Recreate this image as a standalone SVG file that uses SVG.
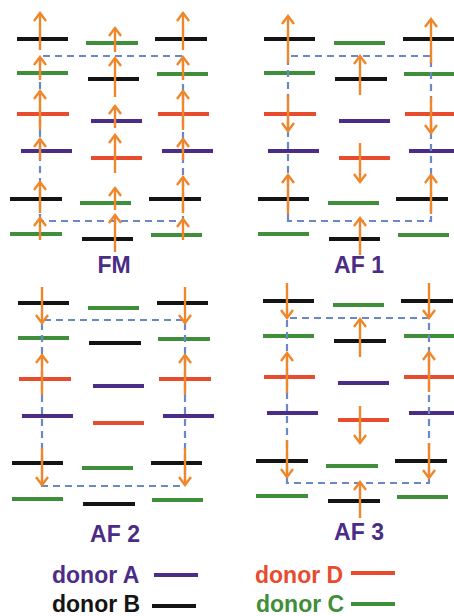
<svg xmlns="http://www.w3.org/2000/svg" width="454" height="616" viewBox="0 0 454 616">
<style>
.k{stroke:#141414;stroke-width:4}
.g{stroke:#3f8f3a;stroke-width:4}
.r{stroke:#e94b2e;stroke-width:4}
.p{stroke:#4b2c86;stroke-width:4}
.d{fill:none;stroke:#6a88c6;stroke-width:2.2;stroke-dasharray:7 5}
.a{stroke:#f0862a;stroke-width:2.4;marker-end:url(#ah)}
.lab{font-family:"Liberation Sans",Arial,sans-serif;font-weight:bold;font-size:23px;fill:#4b2c86;text-anchor:middle}
.leg{font-family:"Liberation Sans",Arial,sans-serif;font-weight:bold;font-size:23px}
</style>
<defs>
<marker id="ah" viewBox="-10 -8 14 16" markerWidth="14" markerHeight="16" refX="0" refY="0" orient="auto" markerUnits="userSpaceOnUse" overflow="visible">
<path d="M-8,-6 L0,0 L-8,6" fill="none" stroke="#f0862a" stroke-width="2.4"/>
</marker>
</defs>

<g id="panel-FM">
<line class="k" x1="17" y1="39" x2="68" y2="39"/><line class="g" x1="86" y1="43" x2="138" y2="43"/><line class="k" x1="155" y1="39" x2="207" y2="39"/>
<line class="g" x1="17" y1="73" x2="68" y2="73"/><line class="k" x1="88" y1="79" x2="139" y2="79"/><line class="g" x1="157" y1="74" x2="208" y2="74"/>
<line class="r" x1="17" y1="114" x2="69" y2="114"/><line class="p" x1="91" y1="121" x2="142" y2="121"/><line class="r" x1="158" y1="114" x2="209" y2="114"/>
<line class="p" x1="21" y1="151" x2="72" y2="151"/><line class="r" x1="91" y1="158" x2="142" y2="158"/><line class="p" x1="162" y1="151" x2="213" y2="151"/>
<line class="k" x1="10" y1="199" x2="62" y2="199"/><line class="g" x1="80" y1="203" x2="131" y2="203"/><line class="k" x1="149" y1="199" x2="201" y2="199"/>
<line class="g" x1="10" y1="234" x2="62" y2="234"/><line class="k" x1="82" y1="239" x2="133" y2="239"/><line class="g" x1="151" y1="235" x2="202" y2="235"/>
<text class="lab" x="114" y="273">FM</text>
</g>

<g id="panel-AF1">
<line class="k" x1="264" y1="39" x2="315" y2="39"/><line class="g" x1="334" y1="43" x2="385" y2="43"/><line class="k" x1="403" y1="39" x2="454" y2="39"/>
<line class="g" x1="264" y1="73" x2="315" y2="73"/><line class="k" x1="335" y1="79" x2="387" y2="79"/><line class="g" x1="404" y1="74" x2="455" y2="74"/>
<line class="r" x1="264" y1="114" x2="316" y2="114"/><line class="p" x1="339" y1="121" x2="390" y2="121"/><line class="r" x1="405" y1="114" x2="456" y2="114"/>
<line class="p" x1="268" y1="151" x2="319" y2="151"/><line class="r" x1="339" y1="158" x2="390" y2="158"/><line class="p" x1="409" y1="151" x2="460" y2="151"/>
<line class="k" x1="258" y1="199" x2="309" y2="199"/><line class="g" x1="328" y1="203" x2="379" y2="203"/><line class="k" x1="396" y1="199" x2="448" y2="199"/>
<line class="g" x1="258" y1="234" x2="309" y2="234"/><line class="k" x1="329" y1="239" x2="380" y2="239"/><line class="g" x1="398" y1="235" x2="449" y2="235"/>
<text class="lab" x="359" y="273">AF 1</text>
</g>

<g id="panel-AF2">
<line class="k" x1="18" y1="303" x2="69" y2="303"/><line class="g" x1="88" y1="308" x2="139" y2="308"/><line class="k" x1="157" y1="303" x2="208" y2="303"/>
<line class="g" x1="18" y1="338" x2="69" y2="338"/><line class="k" x1="89" y1="343" x2="141" y2="343"/><line class="g" x1="158" y1="339" x2="210" y2="339"/>
<line class="r" x1="19" y1="379" x2="71" y2="379"/><line class="p" x1="93" y1="386" x2="144" y2="386"/><line class="r" x1="159" y1="379" x2="211" y2="379"/>
<line class="p" x1="22" y1="416" x2="73" y2="416"/><line class="r" x1="93" y1="423" x2="144" y2="423"/><line class="p" x1="163" y1="416" x2="214" y2="416"/>
<line class="k" x1="12" y1="463" x2="63" y2="463"/><line class="g" x1="82" y1="468" x2="133" y2="468"/><line class="k" x1="151" y1="463" x2="202" y2="463"/>
<line class="g" x1="12" y1="499" x2="63" y2="499"/><line class="k" x1="83" y1="504" x2="135" y2="504"/><line class="g" x1="152" y1="500" x2="203" y2="500"/>
<text class="lab" x="115" y="542">AF 2</text>
</g>

<g id="panel-AF3">
<line class="k" x1="263" y1="301" x2="314" y2="301"/><line class="g" x1="333" y1="305" x2="384" y2="305"/><line class="k" x1="401" y1="301" x2="453" y2="301"/>
<line class="g" x1="263" y1="336" x2="314" y2="336"/><line class="k" x1="334" y1="341" x2="386" y2="341"/><line class="g" x1="404" y1="336" x2="455" y2="336"/>
<line class="r" x1="264" y1="377" x2="315" y2="377"/><line class="p" x1="338" y1="383" x2="389" y2="383"/><line class="r" x1="404" y1="377" x2="455" y2="377"/>
<line class="p" x1="267" y1="413" x2="318" y2="413"/><line class="r" x1="338" y1="420" x2="389" y2="420"/><line class="p" x1="409" y1="413" x2="460" y2="413"/>
<line class="k" x1="256" y1="461" x2="308" y2="461"/><line class="g" x1="326" y1="466" x2="378" y2="466"/><line class="k" x1="395" y1="461" x2="447" y2="461"/>
<line class="g" x1="256" y1="496" x2="308" y2="496"/><line class="k" x1="328" y1="501" x2="380" y2="501"/><line class="g" x1="397" y1="497" x2="448" y2="497"/>
<text class="lab" x="359" y="540">AF 3</text>
</g>

<g id="connectors">
<path class="d" d="M40,221 V56 H183 V221 Z"/>
<path class="d" d="M288,221 V56 H431 V221 Z"/>
<path class="d" d="M42,486 V320 H185 V486 Z"/>
<path class="d" d="M287,483 V318 H429 V483 Z"/>

<line class="a" x1="40" y1="50" x2="40" y2="13"/>
<line class="a" x1="40" y1="80" x2="40" y2="57"/>
<line class="a" x1="40" y1="130" x2="40" y2="91"/>
<line class="a" x1="40" y1="160" x2="40" y2="139"/>
<line class="a" x1="40" y1="213" x2="40" y2="182"/>
<line class="a" x1="40" y1="240" x2="40" y2="218"/>
<line class="a" x1="115" y1="52" x2="115" y2="28"/>
<line class="a" x1="115" y1="97" x2="115" y2="58"/>
<line class="a" x1="115" y1="128" x2="115" y2="106"/>
<line class="a" x1="115" y1="173" x2="115" y2="135"/>
<line class="a" x1="115" y1="210" x2="115" y2="188"/>
<line class="a" x1="115" y1="252" x2="115" y2="215"/>
<line class="a" x1="183" y1="50" x2="183" y2="13"/>
<line class="a" x1="183" y1="80" x2="183" y2="57"/>
<line class="a" x1="183" y1="130" x2="183" y2="91"/>
<line class="a" x1="183" y1="160" x2="183" y2="139"/>
<line class="a" x1="183" y1="213" x2="183" y2="177"/>
<line class="a" x1="183" y1="240" x2="183" y2="219"/>

<line class="a" x1="288" y1="63" x2="288" y2="16"/>
<line class="a" x1="288" y1="95" x2="288" y2="131"/>
<line class="a" x1="288" y1="214" x2="288" y2="175"/>
<line class="a" x1="431" y1="63" x2="431" y2="19"/>
<line class="a" x1="431" y1="97" x2="431" y2="133"/>
<line class="a" x1="431" y1="214" x2="431" y2="175"/>
<line class="a" x1="360" y1="95" x2="360" y2="56"/>
<line class="a" x1="360" y1="143" x2="360" y2="182"/>
<line class="a" x1="360" y1="255" x2="360" y2="218"/>

<line class="a" x1="42" y1="287" x2="42" y2="323"/>
<line class="a" x1="42" y1="395" x2="42" y2="355"/>
<line class="a" x1="42" y1="448" x2="42" y2="485"/>
<line class="a" x1="185" y1="287" x2="185" y2="323"/>
<line class="a" x1="185" y1="395" x2="185" y2="355"/>
<line class="a" x1="185" y1="448" x2="185" y2="485"/>

<line class="a" x1="287" y1="283" x2="287" y2="318"/>
<line class="a" x1="287" y1="393" x2="287" y2="353"/>
<line class="a" x1="287" y1="440" x2="287" y2="477"/>
<line class="a" x1="429" y1="283" x2="429" y2="318"/>
<line class="a" x1="429" y1="392" x2="429" y2="352"/>
<line class="a" x1="429" y1="443" x2="429" y2="478"/>
<line class="a" x1="360" y1="357" x2="360" y2="319"/>
<line class="a" x1="360" y1="406" x2="360" y2="443"/>
<line class="a" x1="360" y1="518" x2="360" y2="482"/>
</g>

<g id="legend">
<text class="leg" x="52" y="583" fill="#4b2c86">donor A</text>
<line class="p" x1="154" y1="575" x2="198" y2="575"/>
<text class="leg" x="255" y="583" fill="#e94b2e">donor D</text>
<line class="r" x1="351" y1="573" x2="395" y2="573"/>
<text class="leg" x="52" y="612" fill="#141414">donor B</text>
<line class="k" x1="152" y1="606" x2="196" y2="606"/>
<text class="leg" x="256" y="612" fill="#3f8f3a">donor C</text>
<line class="g" x1="351" y1="604" x2="395" y2="604"/>
</g>
</svg>
